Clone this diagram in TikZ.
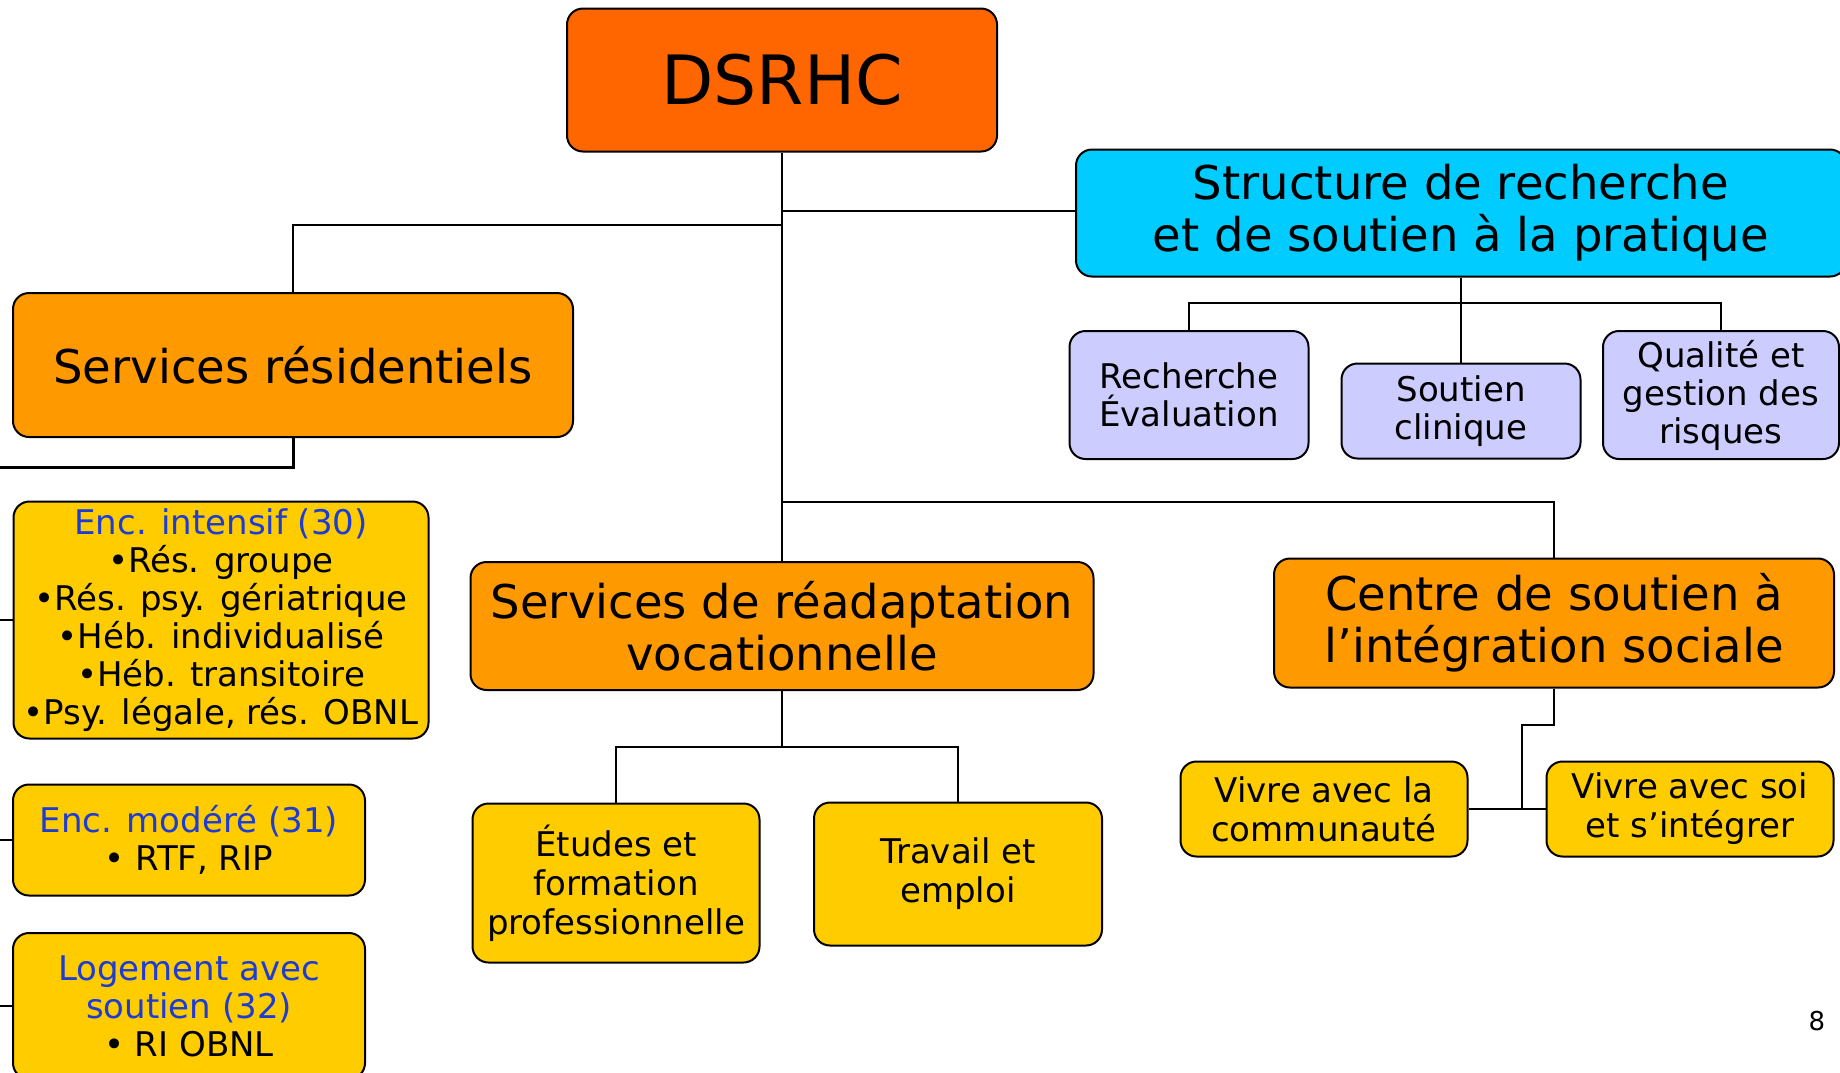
\documentclass[tikz,border=0pt]{standalone}
\usepackage{fontspec}
\setmainfont{DejaVu Sans}
\usetikzlibrary{positioning}
\definecolor{myred}{RGB}{255,102,0}
\definecolor{myorange}{RGB}{255,153,0}
\definecolor{mycyan}{RGB}{0,204,255}
\definecolor{mylilac}{RGB}{204,204,255}
\definecolor{myyellow}{RGB}{255,204,0}
\definecolor{myblue}{RGB}{30,60,210}
\tikzset{
  unit/.style={draw=black, line width=2pt, rounded corners=16pt, align=center, inner sep=0pt},
  bigunit/.style={unit, fill=myorange, font=\fontsize{46.5}{52}\selectfont},
  subunit/.style={unit, fill=mylilac, font=\fontsize{34}{38}\selectfont},
  program/.style={unit, fill=myyellow, font=\fontsize{34}{39}\selectfont},
  listing/.style={unit, fill=myyellow, font=\fontsize{34}{38}\selectfont},
  link/.style={line width=2pt},
}

\begin{document}
\begin{tikzpicture}[x=1pt,y=-1pt]
\useasboundingbox (0,0) rectangle (1840,1072);
\clip (0,0) rectangle (1840,1072);

% direction
\node[unit, fill=myred, font=\fontsize{68}{76}\selectfont, minimum width=430, minimum height=143] (dsrhc) at (782,80) {DSRHC};

% grands services
\node[unit, fill=mycyan, font=\fontsize{46.5}{52}\selectfont, minimum width=770, minimum height=127] (srsp) at (1461,213) {Structure de recherche\\et de soutien à la pratique};
\node[bigunit, minimum width=560, minimum height=144] (res) at (293,365) {Services résidentiels};
\node[bigunit, minimum width=623, minimum height=128] (voc) at (782,626) {Services de réadaptation\\vocationnelle};
\node[bigunit, minimum width=560, minimum height=129] (csis) at (1554,623) {Centre de soutien à\\l’intégration sociale};

% soutien a la pratique
\node[subunit, minimum width=239, minimum height=128] (rech) at (1189,395) {Recherche\\Évaluation};
\node[subunit, minimum width=239, minimum height=95] (sout) at (1461,411) {Soutien\\clinique};
\node[subunit, minimum width=236, minimum height=128] (qual) at (1721,395) {Qualité et\\gestion des\\risques};

% residentiel
\node[listing, minimum width=415, minimum height=237] (intens) at (221,620) {{\color{myblue}Enc. intensif (30)}\\•Rés. groupe\\•Rés. psy. gériatrique\\•Héb. individualisé\\•Héb. transitoire\\•Psy. légale, rés. OBNL};
\node[listing, minimum width=352, minimum height=111] (moder) at (189,840) {{\color{myblue}Enc. modéré (31)}\\• RTF, RIP};
\node[listing, minimum width=352, minimum height=146] (loge) at (189,1006) {{\color{myblue}Logement avec}\\{\color{myblue}soutien (32)}\\• RI OBNL};

% readaptation
\node[program, minimum width=287, minimum height=159] (etud) at (616,883) {Études et\\formation\\professionnelle};
\node[program, minimum width=288, minimum height=143] (trav) at (958,874) {Travail et\\emploi};

% integration sociale
\node[program, minimum width=287, minimum height=95] (vivla) at (1324,809) {Vivre avec la\\communauté};
\node[program, minimum width=287, minimum height=95] (vivsoi) at (1690,809) {Vivre avec soi\\et s’intégrer};

\node[font=\fontsize{26}{30}\selectfont] (page) at (1817,1021) {8};

% liens
\coordinate (split) at (782,502);
\draw[link] (dsrhc.south) -- (dsrhc.south |- voc.north);
\draw[link] (dsrhc.south) -- ++(0,72) -| (res.north);
\draw[link] (dsrhc.south |- 0,211) -- (srsp.west |- 0,211);
\draw[link] (split) -| (csis.north);

\draw[link] (srsp.south) -- (srsp.south |- 0,303) coordinate (sbus);
\draw[link] (rech.north) |- (sbus) -| (qual.north);
\draw[link] (sbus) -- (sout.north);

\draw[link] (voc.south) -- ++(0,56) coordinate (vbus);
\draw[link] (etud.north) |- (vbus) -| (trav.north);

\coordinate (cjog) at (1522,725);
\draw[link] (csis.south) |- (cjog) -- (cjog |- vivla.east);
\draw[link] (vivla.east) -- (vivsoi.west);

\coordinate (rbus) at (-5,467);
\draw[line width=3pt] (res.south) |- (rbus);
\draw[link] (rbus) |- (intens.west);
\draw[link] (rbus) |- (moder.west);
\draw[link] (rbus) |- (loge.west);
\end{tikzpicture}
\end{document}
